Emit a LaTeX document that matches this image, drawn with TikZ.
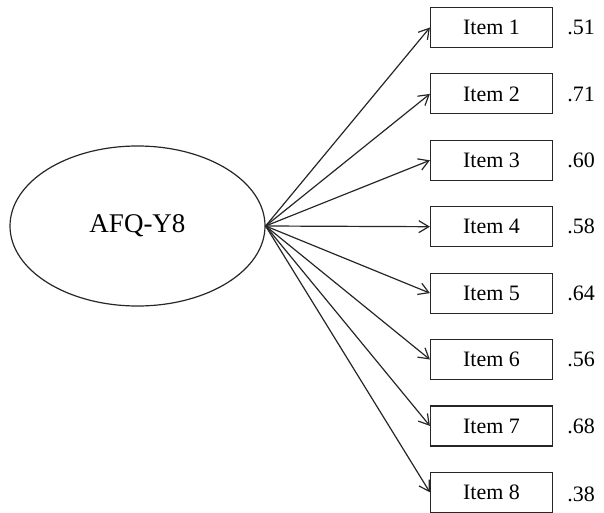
\documentclass[tikz,border=0pt]{standalone}
\usepackage{fontspec}
\setmainfont{Liberation Serif}
\usepackage{tikz}
\usetikzlibrary{shapes.geometric}
\usetikzlibrary{positioning}
\usetikzlibrary{arrows.meta}
\tikzstyle{latent} = [ellipse, minimum width=255pt, minimum height=160pt, inner sep=0pt, draw=black!85, line width=1.2pt, font=\fontsize{27}{30}\selectfont]
\tikzstyle{itembox} = [rectangle, minimum width=122pt, minimum height=40pt, inner sep=0pt, text centered, draw=black!85, line width=1.2pt, font=\fontsize{22}{26}\selectfont]
\tikzstyle{loading} = [inner sep=0pt, font=\fontsize{22}{26}\selectfont]
\tikzstyle{arrow} = [line width=1.2pt, draw=black!85, -{Straight Barb[length=10pt, width=12pt]}]

\begin{document}
\begin{tikzpicture}[x=1pt, y=1pt, node distance=66.4pt]
            \useasboundingbox (0,0) rectangle (604,-513);
            \node (afq) [latent] at (137.5,-226) {AFQ-Y8};
            \node (item1) [itembox] at (491.5,-27.5) {Item 1};
            \node (item2) [itembox, below of=item1] {Item 2};
            \node (item3) [itembox, below of=item2] {Item 3};
            \node (item4) [itembox, below of=item3] {Item 4};
            \node (item5) [itembox, below of=item4] {Item 5};
            \node (item6) [itembox, below of=item5] {Item 6};
            \node (item7) [itembox, below of=item6] {Item 7};
            \node (item8) [itembox, below of=item7] {Item 8};
            \node (l1) [loading, right=14pt of item1] {.51};
            \node (l2) [loading, right=14pt of item2] {.71};
            \node (l3) [loading, right=14pt of item3] {.60};
            \node (l4) [loading, right=14pt of item4] {.58};
            \node (l5) [loading, right=14pt of item5] {.64};
            \node (l6) [loading, right=14pt of item6] {.56};
            \node (l7) [loading, right=14pt of item7] {.68};
            \node (l8) [loading, right=14pt of item8, yshift=-2pt] {.38};

            \draw[arrow] (afq.east) -- (item1.west);
            \draw[arrow] (afq.east) -- (item2.west);
            \draw[arrow] (afq.east) -- (item3.west);
            \draw[arrow] (afq.east) -- (item4.west);
            \draw[arrow] (afq.east) -- (item5.west);
            \draw[arrow] (afq.east) -- (item6.west);
            \draw[arrow] (afq.east) -- (item7.west);
            \draw[arrow] (afq.east) -- (item8.west);
        \end{tikzpicture}
\end{document}
